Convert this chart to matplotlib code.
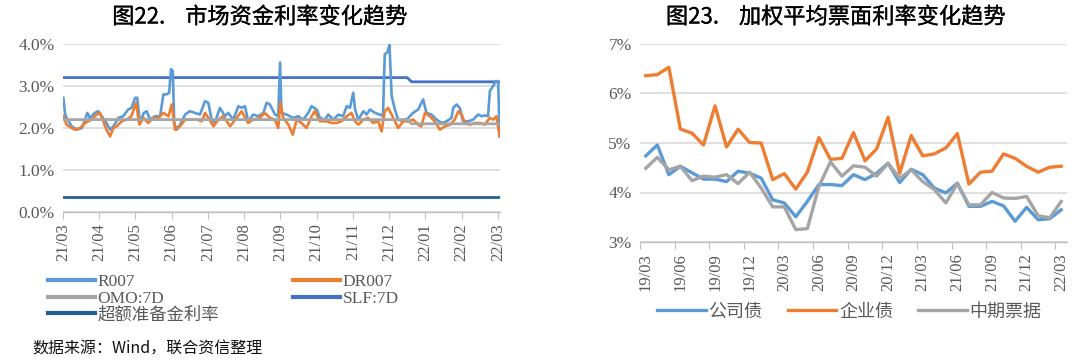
import matplotlib
matplotlib.use("Agg")
import matplotlib.pyplot as plt
import matplotlib.patheffects as pe
from matplotlib.lines import Line2D

plt.rcParams['font.family'] = ['Liberation Serif', 'Noto Sans CJK SC']

# ---- 图22 data: x in months since 2021-03 ----
left_ticks = ["21/03", "21/04", "21/05", "21/06", "21/07", "21/08", "21/09",
              "21/10", "21/11", "21/12", "22/01", "22/02", "22/03"]

r007_t = [0.01, 0.06, 0.10, 0.24, 0.38, 0.52, 0.61, 0.67, 0.74, 0.88, 0.97, 1.07,
          1.20, 1.30, 1.39, 1.53, 1.66, 1.80, 1.89, 1.99, 2.05, 2.12, 2.23, 2.31,
          2.40, 2.54, 2.68, 2.77, 2.86, 2.93, 2.98, 3.03, 3.07, 3.14, 3.23, 3.37,
          3.50, 3.64, 3.78, 3.92, 4.01, 4.10, 4.19, 4.33, 4.47, 4.56, 4.70, 4.84,
          4.93, 5.02, 5.11, 5.25, 5.39, 5.53, 5.62, 5.71, 5.85, 5.94, 5.99, 6.03,
          6.17, 6.35, 6.49, 6.63, 6.77, 6.86, 7.00, 7.09, 7.23, 7.32, 7.46, 7.60,
          7.73, 7.83, 7.92, 8.01, 8.06, 8.15, 8.29, 8.38, 8.47, 8.61, 8.74, 8.83,
          8.88, 8.95, 9.01, 9.07, 9.16, 9.25, 9.39, 9.53, 9.66, 9.80, 9.94, 10.03,
          10.17, 10.31, 10.45, 10.59, 10.72, 10.77, 10.86, 10.95, 11.04, 11.18,
          11.32, 11.46, 11.55, 11.64, 11.73, 11.78, 11.87, 11.95, 12.01, 12.05]
r007 = [2.72, 2.32, 2.24, 2.04, 1.96, 2.00, 2.20, 2.36, 2.24, 2.36, 2.40, 2.28,
        2.12, 1.96, 2.04, 2.24, 2.28, 2.44, 2.48, 2.72, 2.72, 2.12, 2.36, 2.40,
        2.20, 2.28, 2.28, 2.80, 2.80, 2.84, 3.40, 3.36, 2.12, 1.96, 2.08, 2.32,
        2.40, 2.36, 2.32, 2.64, 2.60, 2.20, 2.12, 2.48, 2.28, 2.36, 2.20, 2.52,
        2.48, 2.52, 2.16, 2.32, 2.28, 2.36, 2.60, 2.56, 2.32, 2.28, 3.56, 2.36,
        2.32, 2.24, 2.28, 2.20, 2.36, 2.52, 2.44, 2.24, 2.20, 2.32, 2.20, 2.32,
        2.28, 2.52, 2.48, 2.84, 2.44, 2.20, 2.40, 2.32, 2.44, 2.36, 2.32, 2.28,
        3.76, 3.80, 3.98, 2.76, 2.44, 2.20, 2.16, 2.24, 2.36, 2.44, 2.68, 2.36,
        2.32, 2.20, 2.12, 2.16, 2.24, 2.48, 2.56, 2.48, 2.16, 2.16,
        2.20, 2.32, 2.28, 2.30, 2.28, 2.88, 3.00, 3.12, 3.08, 1.80]

dr007_t = [0.01, 0.10, 0.24, 0.33, 0.47, 0.61, 0.70, 0.79, 0.93, 1.02, 1.11, 1.20,
           1.30, 1.39, 1.48, 1.62, 1.76, 1.89, 2.01, 2.11, 2.22, 2.35, 2.49, 2.63,
           2.77, 2.91, 3.00, 3.09, 3.23, 3.37, 3.50, 3.69, 3.83, 3.92, 4.04, 4.15,
           4.29, 4.42, 4.61, 4.79, 4.93, 5.11, 5.25, 5.43, 5.57, 5.71, 5.85, 5.94,
           6.00, 6.08, 6.22, 6.34, 6.45, 6.58, 6.72, 6.86, 6.95, 7.09, 7.27, 7.41,
           7.55, 7.69, 7.83, 7.96, 8.06, 8.15, 8.29, 8.42, 8.56, 8.70, 8.79, 8.88,
           8.97, 9.07, 9.16, 9.25, 9.39, 9.53, 9.66, 9.80, 9.89, 9.99, 10.12, 10.26,
           10.40, 10.54, 10.68, 10.81, 10.91, 11.00, 11.09, 11.23, 11.37, 11.50,
           11.64, 11.78, 11.87, 11.96, 12.05]
dr007 = [2.28, 2.08, 2.00, 1.96, 2.00, 2.12, 2.16, 2.20, 2.32, 2.36, 2.16, 1.96,
         1.80, 2.00, 2.04, 2.16, 2.20, 2.28, 2.60, 2.08, 2.24, 2.12, 2.24, 2.24,
         2.36, 2.28, 2.56, 1.96, 2.04, 2.20, 2.20, 2.20, 2.16, 2.36, 2.20, 2.04,
         2.20, 2.28, 2.04, 2.24, 2.40, 2.12, 2.20, 2.24, 2.36, 2.24, 2.20, 2.00,
         2.60, 2.24, 2.08, 1.84, 2.20, 2.12, 2.00, 2.28, 2.40, 2.16, 2.16, 2.12,
         2.12, 2.16, 2.28, 2.36, 2.16, 2.08, 2.20, 2.24, 2.12, 2.16, 1.92, 2.40,
         2.48, 2.32, 2.16, 2.00, 2.16, 2.16, 2.20, 2.08, 2.04, 2.36, 2.28, 2.16,
         1.96, 2.04, 2.08, 2.20, 2.40, 2.32, 2.12, 2.08, 2.12, 2.12,
         2.08, 2.24, 2.20, 2.28, 1.80]

policy_t = [0, 9.5, 9.62, 12.05]
omo_7d = [2.2, 2.2, 2.1, 2.1]
slf_7d = [3.2, 3.2, 3.1, 3.1]
excess_t = [0, 12.05]
excess_reserve = [0.35, 0.35]

# ---- 图23 data: monthly 2019/03 - 2022/03 ----
right_ticks = ["19/03", "19/06", "19/09", "19/12", "20/03", "20/06", "20/09",
               "20/12", "21/03", "21/06", "21/09", "21/12", "22/03"]
company = [4.74, 4.96, 4.36, 4.53, 4.40, 4.27, 4.27, 4.22, 4.43, 4.39, 4.29, 3.85,
           3.79, 3.51, 3.82, 4.16, 4.16, 4.14, 4.36, 4.26, 4.39, 4.59, 4.20, 4.47,
           4.36, 4.09, 3.99, 4.19, 3.72, 3.72, 3.82, 3.73, 3.42, 3.70, 3.45, 3.47,
           3.65]
enterprise = [6.36, 6.38, 6.53, 5.28, 5.20, 4.96, 5.75, 4.92, 5.28, 5.01, 5.00, 4.26,
              4.38, 4.07, 4.41, 5.11, 4.67, 4.69, 5.21, 4.64, 4.88, 5.52, 4.39, 5.15,
              4.74, 4.78, 4.90, 5.19, 4.17, 4.41, 4.43, 4.78, 4.69, 4.53, 4.41, 4.51,
              4.53]
mtn = [4.49, 4.71, 4.46, 4.53, 4.24, 4.33, 4.31, 4.36, 4.18, 4.41, 4.09, 3.71,
       3.71, 3.25, 3.27, 4.12, 4.62, 4.33, 4.54, 4.51, 4.33, 4.59, 4.29, 4.46,
       4.22, 4.06, 3.79, 4.18, 3.75, 3.75, 4.00, 3.89, 3.88, 3.92, 3.53, 3.49,
       3.82]

C_LBLUE = "#5B9BD5"
C_ORANGE = "#ED7D31"
C_GRAY = "#A5A5A5"
C_BLUE = "#4472C4"
C_DBLUE = "#255E91"
TXT = "#595959"
GRID = "#D9D9D9"

fig = plt.figure(figsize=(10.8, 3.62), dpi=100)


def style_axes(ax):
    for s in ["top", "right", "left"]:
        ax.spines[s].set_visible(False)
    ax.spines["bottom"].set_color("#BFBFBF")
    ax.spines["bottom"].set_linewidth(1.0)
    ax.grid(axis="y", color=GRID, linewidth=1.2)
    ax.set_axisbelow(True)
    ax.tick_params(axis="y", length=0, labelsize=12.5, labelcolor=TXT, pad=6)
    ax.tick_params(axis="x", which="both", color="#BFBFBF", labelsize=12,
                   labelcolor=TXT, rotation=90)


title_kw = dict(ha="center", va="center", fontsize=16, family=["Noto Sans CJK SC"],
                color="#000000",
                path_effects=[pe.withStroke(linewidth=0.2, foreground="#000000")])

# ---- left chart ----
ax1 = fig.add_axes([63 / 1080, 1 - 212 / 362, 437 / 1080, 168 / 362])
style_axes(ax1)
ax1.plot(excess_t, excess_reserve, color=C_DBLUE, lw=2.0)
ax1.plot(policy_t, slf_7d, color=C_BLUE, lw=2.0)
ax1.plot(r007_t, r007, color=C_LBLUE, lw=1.9)
ax1.plot(dr007_t, dr007, color=C_ORANGE, lw=1.9)
ax1.plot(policy_t, omo_7d, color=C_GRAY, lw=2.0)
ax1.set_ylim(0, 4.0)
ax1.set_yticks([0, 1, 2, 3, 4])
ax1.set_yticklabels([f"{v:.1f}%" for v in [0, 1, 2, 3, 4]])
ax1.set_xlim(0, 12.06)
ax1.set_xticks(range(len(left_ticks)))
ax1.set_xticklabels(left_ticks)
ax1.tick_params(axis="x", length=5, pad=3)

fig.text(260 / 1080, 1 - 17 / 362, "图22.    市场资金利率变化趋势", **title_kw)

leg_kw = dict(frameon=False, fontsize=12.5, handlelength=2.7, handletextpad=0.15,
              labelspacing=0.02, borderaxespad=0, borderpad=0, labelcolor=TXT)
h1 = [Line2D([], [], color=c, lw=3) for c in (C_LBLUE, C_GRAY, C_DBLUE)]
fig.legend(h1, ["R007", "OMO:7D", "超额准备金利率"], loc="upper left",
           bbox_to_anchor=(48 / 1080, 1 - 274 / 362), **leg_kw)
h2 = [Line2D([], [], color=c, lw=3) for c in (C_ORANGE, C_BLUE)]
fig.legend(h2, ["DR007", "SLF:7D"], loc="upper left",
           bbox_to_anchor=(293 / 1080, 1 - 274 / 362), **leg_kw)

fig.text(32 / 1080, 1 - 349 / 362, "数据来源：Wind，联合资信整理", ha="left", va="center",
         fontsize=11.5, family=["Noto Sans CJK SC"], color="#111111")

# ---- right chart ----
n = len(company)
xs = [i + 0.5 for i in range(n)]
ax2 = fig.add_axes([640 / 1080, 1 - 242 / 362, 427 / 1080, 198 / 362])
style_axes(ax2)
ax2.plot(xs, company, color=C_LBLUE, lw=2.4, label="公司债")
ax2.plot(xs, enterprise, color=C_ORANGE, lw=2.4, label="企业债")
ax2.plot(xs, mtn, color=C_GRAY, lw=2.4, label="中期票据")
ax2.set_ylim(3, 7)
ax2.set_yticks([3, 4, 5, 6, 7])
ax2.set_yticklabels([f"{v}%" for v in [3, 4, 5, 6, 7]])
ax2.set_xlim(0, n)
ax2.set_xticks(range(0, n, 3))
ax2.set_xticklabels([])
ax2.set_xticks([i + 0.5 for i in range(0, n, 3)], minor=True)
ax2.set_xticklabels(right_ticks, minor=True)
ax2.tick_params(axis="x", which="major", length=5)
ax2.tick_params(axis="x", which="minor", length=0, pad=8)

ax2.legend(loc="upper center", bbox_to_anchor=(0.49, -0.225), ncol=3, frameon=False,
           prop={"family": ["Noto Sans CJK SC"], "size": 13}, labelcolor=TXT,
           handlelength=2.7, handletextpad=0.15, columnspacing=1.4)

fig.text(836 / 1080, 1 - 17 / 362, "图23.    加权平均票面利率变化趋势", **title_kw)

fig.savefig("out.png", dpi=100)
